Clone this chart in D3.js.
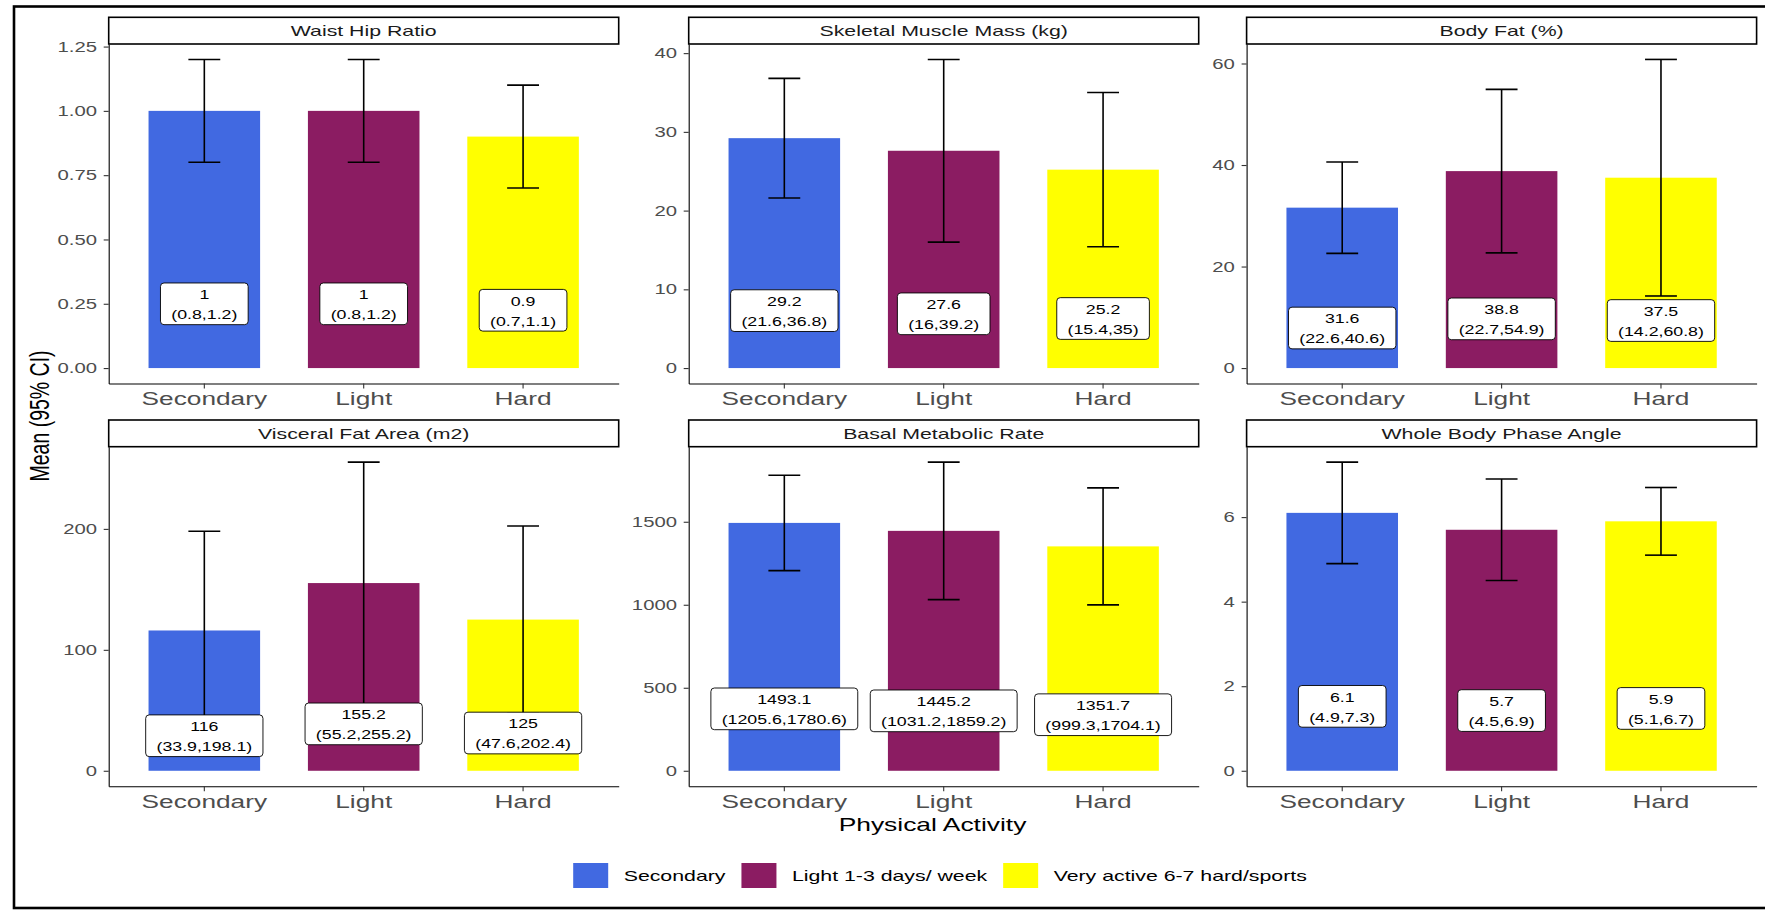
<!DOCTYPE html>
<html>
<head>
    <title>Body composition by physical activity</title>
    <style>
        body { margin: 0; background: #fff; }
        svg { display: block; font-family: "Liberation Sans", Arial, sans-serif; }
    </style>
</head>
<body>
    <svg id="chart"></svg>
    <script src="https://d3js.org/d3.v7.min.js"></script>
    <script>
        // Data
        const categories = ["Secondary", "Light", "Hard"];
        const legendLabels = ["Secondary", "Light 1-3 days/ week", "Very active 6-7 hard/sports"];
        const colors = ["#4169E1", "#8B1C62", "#FFFF00"];

        const panelTitles = ["Waist Hip Ratio", "Skeletal Muscle Mass (kg)", "Body Fat (%)",
                             "Visceral Fat Area (m2)", "Basal Metabolic Rate", "Whole Body Phase Angle"];

        const meanValues = [
            [1, 1, 0.9],
            [29.2, 27.6, 25.2],
            [31.6, 38.8, 37.5],
            [116, 155.2, 125],
            [1493.1, 1445.2, 1351.7],
            [6.1, 5.7, 5.9]
        ];
        const lowerCI = [
            [0.8, 0.8, 0.7],
            [21.6, 16, 15.4],
            [22.6, 22.7, 14.2],
            [33.9, 55.2, 47.6],
            [1205.6, 1031.2, 999.3],
            [4.9, 4.5, 5.1]
        ];
        const upperCI = [
            [1.2, 1.2, 1.1],
            [36.8, 39.2, 35],
            [40.6, 54.9, 60.8],
            [198.1, 255.2, 202.4],
            [1780.6, 1859.2, 1704.1],
            [7.3, 6.9, 6.7]
        ];
        const yTicks = [
            [0, 0.25, 0.5, 0.75, 1, 1.25],
            [0, 10, 20, 30, 40],
            [0, 20, 40, 60],
            [0, 100, 200],
            [0, 500, 1000, 1500],
            [0, 2, 4, 6]
        ];

        // the source picture is stretched sideways, text too
        const SX = 1.42;
        const width = 1765, height = 910;
        const colLeft = [108.7, 688.7, 1246.6];
        const rowTop = [44, 446.7];
        const panelW = 510, panelH = 339.5, stripH = 26.7;

        const svg = d3.select("#chart").attr("width", width).attr("height", height);
        svg.append("rect").attr("width", width).attr("height", height).attr("fill", "#fff");

        panelTitles.forEach((title, i) => {
            const col = i % 3, row = Math.floor(i / 3);
            const x0 = colLeft[col], y0 = rowTop[row];

            const x = d3.scaleBand().domain(categories)
                .range([x0, x0 + panelW]).paddingInner(0.3).paddingOuter(0.25);
            const top = d3.max(upperCI[i]);
            const y = d3.scaleLinear().domain([-0.05 * top, top * 1.05]).range([y0 + panelH, y0]);

            const rows = categories.map((c, j) => ({
                cat: c, mean: meanValues[i][j], lo: lowerCI[i][j], hi: upperCI[i][j], color: colors[j]
            }));

            const g = svg.append("g");

            // bars
            g.selectAll("rect.bar").data(rows).enter().append("rect")
                .attr("class", "bar")
                .attr("x", d => x(d.cat))
                .attr("width", x.bandwidth())
                .attr("y", d => y(d.mean))
                .attr("height", d => y(0) - y(d.mean))
                .attr("fill", d => d.color);

            // error bars
            const cap = x.step() * 0.1;
            const eb = g.selectAll("g.eb").data(rows).enter().append("g")
                .attr("transform", d => `translate(${x(d.cat) + x.bandwidth() / 2},0)`)
                .attr("stroke", "#000").attr("stroke-width", 1.6);
            eb.append("line").attr("y1", d => y(d.lo)).attr("y2", d => y(d.hi));
            eb.append("line").attr("x1", -cap).attr("x2", cap).attr("y1", d => y(d.lo)).attr("y2", d => y(d.lo));
            eb.append("line").attr("x1", -cap).attr("x2", cap).attr("y1", d => y(d.hi)).attr("y2", d => y(d.hi));

            // value labels at mean/4
            const lab = g.selectAll("g.lab").data(rows).enter().append("g")
                .attr("transform", d => `translate(${x(d.cat) + x.bandwidth() / 2},${y(d.mean / 4)})`);
            const box = lab.append("rect");
            lab.append("text").attr("class", "l1")
                .attr("text-anchor", "middle").attr("y", -9).attr("dy", "0.35em")
                .attr("font-size", 12.5).attr("fill", "#000")
                .attr("transform", `scale(${SX},1)`)
                .text(d => d.mean);
            lab.append("text").attr("class", "l2")
                .attr("text-anchor", "middle").attr("y", 11).attr("dy", "0.35em")
                .attr("font-size", 12.5).attr("fill", "#000")
                .attr("transform", `scale(${SX},1)`)
                .text(d => `(${d.lo},${d.hi})`);
            box.each(function () {
                const p = d3.select(this.parentNode);
                const w = Math.max(p.select(".l1").node().getComputedTextLength(),
                                   p.select(".l2").node().getComputedTextLength()) * SX + 21.6;
                d3.select(this)
                    .attr("x", -w / 2).attr("y", -20.8)
                    .attr("width", w).attr("height", 41.7)
                    .attr("rx", 3.5).attr("ry", 3.5)
                    .attr("fill", "#fff").attr("stroke", "#000").attr("stroke-width", 0.9);
            });

            // axes
            const fmt = i === 0 ? d3.format(".2f") : d3.format("d");
            const ya = svg.append("g").attr("transform", `translate(${x0},0)`)
                .call(d3.axisLeft(y).tickValues(yTicks[i]).tickFormat(fmt).tickSize(5).tickSizeOuter(0));
            ya.select(".domain").attr("stroke", "#000").attr("stroke-width", 1.1);
            ya.selectAll(".tick line").attr("stroke", "#333").attr("stroke-width", 1.1);
            ya.selectAll(".tick text")
                .attr("x", -11.7 / SX).attr("transform", `scale(${SX},1)`)
                .attr("font-size", 14.3).attr("fill", "#4d4d4d")
                .attr("font-family", "Liberation Sans, Arial, sans-serif");

            const xa = svg.append("g").attr("transform", `translate(0,${y0 + panelH})`)
                .call(d3.axisBottom(x).tickSize(5).tickSizeOuter(0));
            xa.select(".domain").attr("stroke", "#000").attr("stroke-width", 1.1);
            xa.selectAll(".tick line").attr("stroke", "#333").attr("stroke-width", 1.1);
            xa.selectAll(".tick text")
                .attr("y", 15).attr("dy", "0.35em").attr("transform", `scale(${SX},1)`)
                .attr("font-size", 18.5).attr("fill", "#4d4d4d")
                .attr("font-family", "Liberation Sans, Arial, sans-serif");

            // strip
            svg.append("rect")
                .attr("x", x0).attr("y", y0 - stripH)
                .attr("width", panelW).attr("height", stripH)
                .attr("fill", "#fff").attr("stroke", "#000").attr("stroke-width", 1.6);
            svg.append("text")
                .attr("transform", `translate(${x0 + panelW / 2},${y0 - stripH / 2}) scale(${SX},1)`)
                .attr("text-anchor", "middle").attr("dy", "0.35em")
                .attr("font-size", 15).attr("fill", "#1a1a1a")
                .text(title);
        });

        // axis titles
        svg.append("text")
            .attr("transform", `translate(932.5,824) scale(${SX},1)`)
            .attr("text-anchor", "middle").attr("dy", "0.35em")
            .attr("font-size", 18.6).attr("fill", "#000")
            .text("Physical Activity");
        svg.append("text")
            .attr("transform", `translate(39,416) scale(${SX},1) rotate(-90)`)
            .attr("text-anchor", "middle").attr("dy", "0.35em")
            .attr("font-size", 19.5).attr("fill", "#000")
            .text("Mean (95% CI)");

        // legend
        const legend = svg.append("g");
        const keyW = 35, keyH = 25, keyGap = 15.5, itemGap = 16;
        let lx = 0;
        legendLabels.forEach((t, j) => {
            legend.append("rect").attr("x", lx).attr("y", -keyH / 2)
                .attr("width", keyW).attr("height", keyH).attr("fill", colors[j]);
            const tx = legend.append("text")
                .attr("transform", `translate(${lx + keyW + keyGap},0) scale(${SX},1)`)
                .attr("dy", "0.35em").attr("font-size", 15).attr("fill", "#000")
                .text(t);
            lx += keyW + keyGap + tx.node().getComputedTextLength() * SX + itemGap;
        });
        lx -= itemGap;
        legend.attr("transform", `translate(${940 - lx / 2},875.5)`);

        // outer frame (right side is cut off in the source)
        svg.append("rect")
            .attr("x", 14).attr("y", 6.5)
            .attr("width", width + 20).attr("height", 901.5)
            .attr("fill", "none").attr("stroke", "#000").attr("stroke-width", 2.6);
    </script>
</body>
</html>
